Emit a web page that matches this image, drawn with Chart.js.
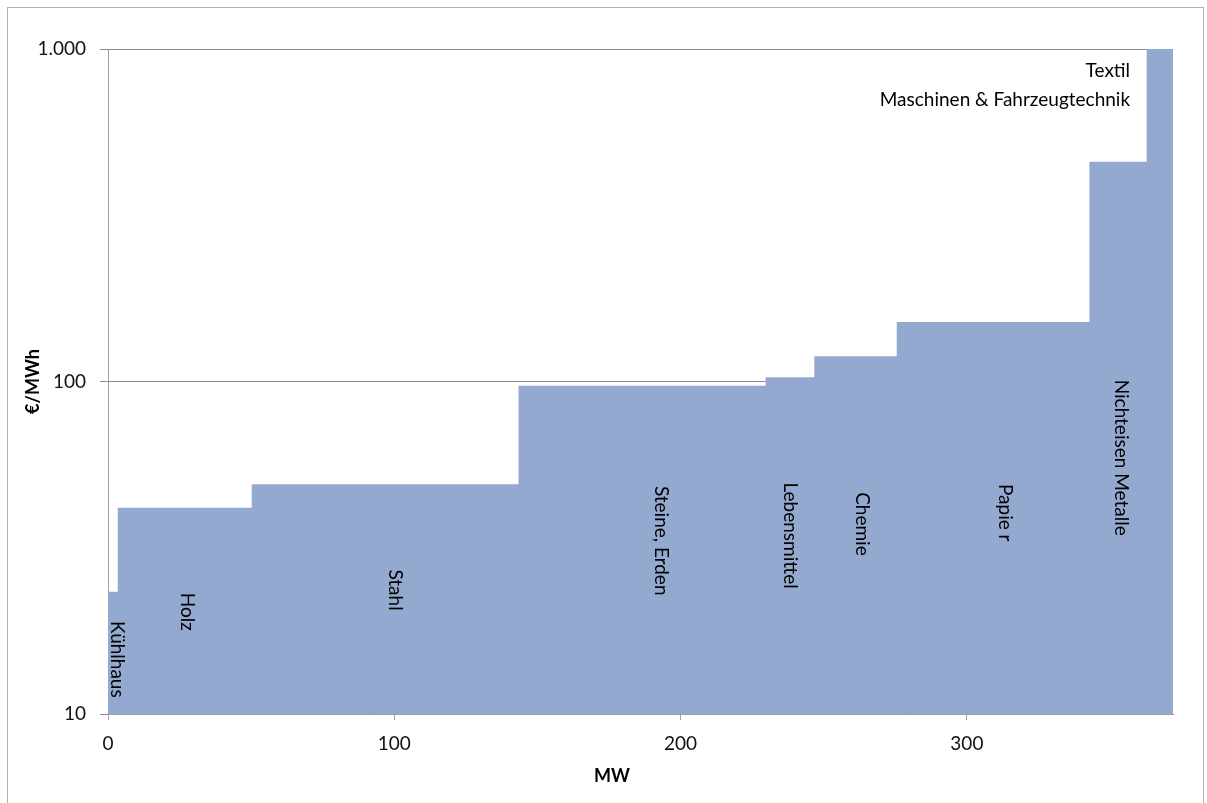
<!DOCTYPE html>
<html>
<head>
<meta charset="utf-8">
<script src="https://cdn.jsdelivr.net/npm/chart.js@4"></script>
<style>
  body { margin: 0; background: #fff; }
  #wrap { position: relative; width: 1207px; height: 803px; }
  #frame { position: absolute; left: 7px; top: 7px; width: 1195px; height: 820px; border: 1px solid #b0b0b0; pointer-events: none; }
</style>
</head>
<body>
<div id="wrap">
  <canvas id="merit" width="1207" height="803"></canvas>
  <div id="frame"></div>
</div>
<script>
// Sektoren in Reihenfolge der Kosten (Merit Order)
const sectors = ['Kühlhaus', 'Holz', 'Stahl', 'Steine, Erden', 'Lebensmittel', 'Chemie', 'Papie r', 'Nichteisen Metalle', 'Textil', 'Maschinen & Fahrzeugtechnik'];
const capacityMW = [3.4, 46.8, 93.2, 86.3, 17.0, 28.8, 67.3, 20.0, 4.6, 4.6];
const costEurMWh = [23.3, 41.7, 49.1, 97.1, 103, 119.2, 151, 457.7, 1000, 1000];
const xTicks = [0, 100, 200, 300];
const yTicks = [10, 100, 1000];

// Stufenpunkte aus den Kapazitaeten aufbauen
const points = [];
let cum = 0;
for (let i = 0; i < sectors.length; i++) {
    points.push({x: cum, y: costEurMWh[i]});
    cum += capacityMW[i];
}
points.push({x: cum, y: costEurMWh[costEurMWh.length - 1]});
const totalMW = cum;

const FONT = 'Lato, "Open Sans", sans-serif';

// Beschriftungen im Diagramm (Position in Datenkoordinaten)
const sectorLabels = [
    {text: 'Kühlhaus', x: 3.1, y: 14.6, rot: true},
    {text: 'Holz', x: 27.6, y: 20.3, rot: true},
    {text: 'Stahl', x: 100.2, y: 23.6, rot: true},
    {text: 'Steine, Erden', x: 193.2, y: 33.2, rot: true},
    {text: 'Lebensmittel', x: 238.2, y: 34.4, rot: true},
    {text: 'Chemie', x: 263.4, y: 37.3, rot: true},
    {text: 'Papie r', x: 313.3, y: 40.3, rot: true},
    {text: 'Nichteisen Metalle', x: 353.8, y: 59.0, rot: true},
    {text: 'Textil', x: 357, y: 859, rot: false},
    {text: 'Maschinen & Fahrzeugtechnik', x: 357, y: 702, rot: false}
];

const labelPlugin = {
    id: 'sectorLabels',
    afterDatasetsDraw(chart) {
        const ctx = chart.ctx;
        const xs = chart.scales.x, ys = chart.scales.y;
        ctx.save();
        ctx.fillStyle = '#000';
        ctx.font = '19px ' + FONT;
        ctx.textBaseline = 'middle';
        sectorLabels.forEach(l => {
            const px = xs.getPixelForValue(l.x);
            const py = ys.getPixelForValue(l.y);
            ctx.save();
            ctx.translate(px, py);
            if (l.rot) {
                ctx.rotate(Math.PI / 2);
                ctx.textAlign = 'center';
            } else {
                ctx.textAlign = 'right';
            }
            ctx.fillText(l.text, 0, 0);
            ctx.restore();
        });
        // x-Achsentitel
        ctx.font = 'bold 18px ' + FONT;
        ctx.textAlign = 'center';
        ctx.fillText('MW', 612, 776);
        ctx.restore();
    }
};

new Chart(document.getElementById('merit'), {
    type: 'line',
    data: {
        datasets: [{
            label: 'Kosten',
            data: points,
            stepped: 'before',
            fill: 'start',
            backgroundColor: '#94a9cf',
            borderWidth: 0,
            pointRadius: 0
        }]
    },
    options: {
        responsive: false,
        animation: false,
        layout: {padding: {left: 0, top: 49, right: 34, bottom: 0}},
        plugins: {legend: {display: false}, tooltip: {enabled: false}},
        scales: {
            x: {
                type: 'linear',
                min: 0,
                max: totalMW,
                afterBuildTicks: s => { s.ticks = xTicks.map(v => ({value: v})); },
                afterFit: s => { s.height = 89; },
                grid: {drawOnChartArea: false, drawTicks: true, tickLength: 6, color: '#a0a0a0'},
                border: {color: '#a0a0a0'},
                ticks: {color: '#111', padding: 12, font: {family: FONT, size: 19}}
            },
            y: {
                type: 'logarithmic',
                min: 10,
                max: 1000,
                afterBuildTicks: s => { s.ticks = yTicks.map(v => ({value: v})); },
                afterFit: s => { s.width = 108; },
                grid: {color: '#8c8c8c', tickLength: 8},
                border: {color: '#a0a0a0'},
                ticks: {
                    color: '#111',
                    padding: 14,
                    font: {family: FONT, size: 19},
                    callback: v => v.toLocaleString('de-DE')
                },
                title: {
                    display: true,
                    text: '€/MWh',
                    color: '#000',
                    font: {family: FONT, size: 18, weight: 'bold'},
                    padding: {top: 22, bottom: 0}
                }
            }
        }
    },
    plugins: [labelPlugin]
});
</script>
</body>
</html>
